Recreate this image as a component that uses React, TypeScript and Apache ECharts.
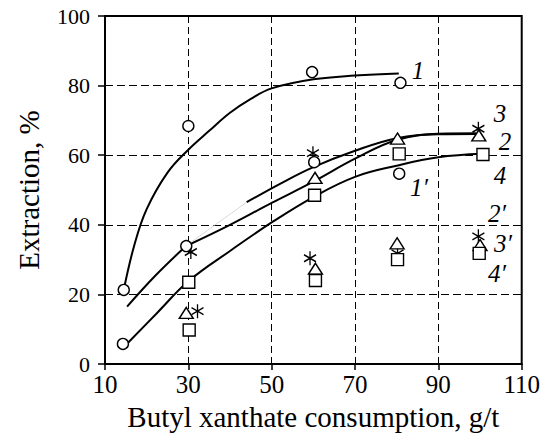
import React, { useEffect, useRef } from "react";
import * as echarts from "echarts";

// Fitted curves (x: butyl xanthate consumption, g/t; y: extraction, %)
const curve1 = [[14.5, 21.3], [17, 34], [20, 44.5], [25, 55], [30, 61.6], [35, 67], [40, 72.2], [45, 76.2], [50, 79.2], [60, 81.8], [70, 82.9], [80.5, 83.5]];
const curve2 = [[30.5, 34.5], [40, 40], [50, 46.3], [60, 52.4], [70, 59], [80, 64.4], [90, 66], [99, 66.1]];
const curve3Start = [[15.3, 16.5], [22, 25.3], [29.5, 34]];
const curve3Faint = [[29.5, 34], [37, 40.5], [44, 46.5]];
const curve3 = [[44, 46.5], [52, 51.8], [60, 56.6], [70, 61.3], [80, 64.9], [90, 66.2], [99, 66.3]];
const curve4 = [[15, 5.5], [22.5, 14.7], [30, 23.8], [40, 32.5], [50, 40.7], [60, 48], [70, 53.8], [80, 57], [90, 59.4], [100.5, 60.4]];

// Measured points
const points1 = [[14.5, 21.3], [30, 68.4], [59.7, 83.9], [80.9, 80.8]];
const points1p = [[14.3, 5.8], [29.5, 33.9], [60.2, 58], [80.6, 54.7]];
const points2 = [[60.4, 53.5], [80.2, 64.8], [99.7, 65.7]];
const points2p = [[29.5, 14.7], [60.5, 27.4], [80.1, 34.7], [100, 34.2]];
const points3 = [[30.6, 32.2], [59.9, 60.6], [99.6, 67.6]];
const points3p = [[32.2, 15.2], [59.2, 30.4], [80.2, 31.8], [99.6, 36.7]];
const points4 = [[30.1, 23.5], [60.3, 48.5], [80.6, 60.4], [100.7, 60.2]];
const points4p = [[30.2, 9.8], [60.5, 24], [80.2, 30], [99.8, 31.8]];

const xTicks = { min: 10, max: 110, interval: 20 };
const yTicks = { min: 0, max: 100, interval: 20 };

const curveLabels = ["1", "3", "2", "4", "1\u2032", "2\u2032", "3\u2032", "4\u2032"];

const FONT = "Times New Roman";
const ASTERISK = "path://M6,0L6,14M0,3.5L12,10.5M0,10.5L12,3.5";

export default function App() {
  const ref = useRef<HTMLDivElement>(null);

  useEffect(() => {
    if (!ref.current) return;
    const chart = echarts.init(ref.current, null, { renderer: "svg" });

    const lineSeries = (data: number[][], faint = false) => ({
      type: "line",
      data,
      smooth: 0.4,
      showSymbol: false,
      symbol: "none",
      z: 2,
      lineStyle: faint
        ? { color: "#cccccc", width: 0.8 }
        : { color: "#000", width: 2 },
    });

    const markers = (data: number[][], symbol: string, size: number | number[], z = 5) => ({
      type: "scatter",
      data,
      symbol,
      symbolSize: size,
      z,
      itemStyle: {
        color: symbol === ASTERISK ? "none" : "#fff",
        borderColor: "#000",
        borderWidth: 1.4,
        opacity: 1,
      },
    });

    const labelPos = [
      [418, 70],
      [500, 113],
      [505, 141],
      [500, 175],
      [419, 187],
      [497, 213],
      [503, 243],
      [497, 273],
    ];

    chart.setOption({
      animation: false,
      textStyle: { fontFamily: FONT },
      grid: {
        left: 105,
        right: 16,
        top: 16,
        bottom: 69,
        show: true,
        borderColor: "#000",
        borderWidth: 2,
      },
      xAxis: {
        type: "value",
        min: xTicks.min,
        max: xTicks.max,
        interval: xTicks.interval,
        name: "Butyl xanthate consumption, g/t",
        nameLocation: "middle",
        nameGap: 35,
        nameTextStyle: { fontFamily: FONT, fontSize: 29, color: "#000" },
        axisLine: { lineStyle: { color: "#000", width: 2 } },
        axisTick: { inside: false, length: 6, lineStyle: { color: "#000", width: 1.5 } },
        axisLabel: { fontFamily: FONT, fontSize: 25, color: "#000", margin: 8 },
        splitLine: { show: true, lineStyle: { color: "#000", width: 1, type: [7, 4] } },
      },
      yAxis: {
        type: "value",
        min: yTicks.min,
        max: yTicks.max,
        interval: yTicks.interval,
        name: "Extraction, %",
        nameLocation: "middle",
        nameGap: 62,
        nameTextStyle: { fontFamily: FONT, fontSize: 29, color: "#000" },
        axisLine: { lineStyle: { color: "#000", width: 2 } },
        axisTick: { inside: false, length: 7, lineStyle: { color: "#000", width: 1.5 } },
        axisLabel: { fontFamily: FONT, fontSize: 22, color: "#000", margin: 15 },
        splitLine: { show: true, lineStyle: { color: "#000", width: 1, type: [8, 4] } },
      },
      series: [
        lineSeries(curve1),
        lineSeries(curve2),
        lineSeries(curve3Start),
        lineSeries(curve3Faint, true),
        lineSeries(curve3),
        lineSeries(curve4),
        markers(points3p, ASTERISK, [12, 14], 4),
        markers(points2p, "triangle", [14, 11]),
        markers(points4p, "rect", [12, 12], 6),
        markers(points3, ASTERISK, [12, 14], 4),
        markers(points1, "circle", 11),
        markers(points1p, "circle", 11),
        markers(points2, "triangle", [14, 11]),
        markers(points4, "rect", [12, 12], 6),
      ],
      graphic: curveLabels.map((t, i) => ({
        type: "text",
        x: labelPos[i][0],
        y: labelPos[i][1],
        z: 10,
        style: {
          text: t,
          fontFamily: FONT,
          fontStyle: "italic",
          fontSize: 25,
          fill: "#000",
          align: "center",
          verticalAlign: "middle",
        },
      })),
    });

    return () => chart.dispose();
  }, []);

  return (
    <div
      ref={ref}
      style={{ position: "fixed", left: 0, top: 0, width: 543, height: 436, background: "#fff" }}
    />
  );
}
